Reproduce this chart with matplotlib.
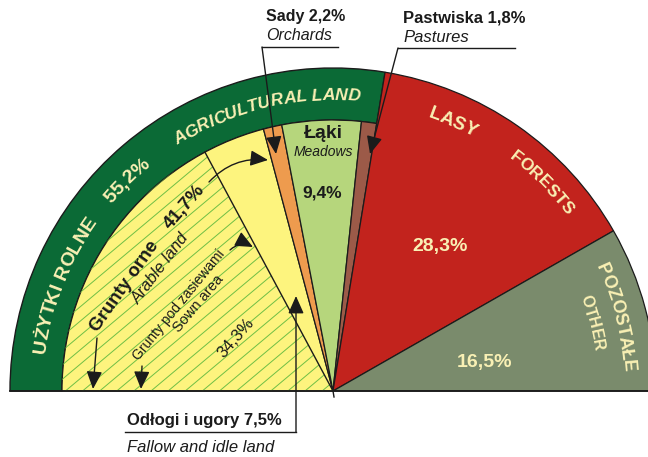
import numpy as np
import matplotlib
matplotlib.use("Agg")
import matplotlib.pyplot as plt
from matplotlib.patches import Wedge, FancyArrowPatch
from matplotlib.font_manager import FontProperties, findfont
from matplotlib.ft2font import FT2Font

# land use shares, % of total area (semicircle = 100%)
categories = ["Grunty orne", "Sady", "Łąki", "Pastwiska", "Lasy", "Pozostałe"]
shares = [41.7, 2.2, 9.4, 1.8, 28.3, 16.5]
sown_share = 34.3
fallow_share = 7.5
agri_share = 55.2

colors = ["#fdf47e", "#ee9b4e", "#b6d67c", "#9c5a48", "#c2231d", "#7a8b6c"]
band_color = "#0b6a36"
hatch_color = "#6fbf45"
cream = "#f9f0b4"
ink = "#1b1b1b"

W, H = 648, 457
cx, cy = 333, H - 391
R_OUT, R_IN = 323, 271

fig = plt.figure(figsize=(6.48, 4.57), dpi=100)
ax = fig.add_axes([0, 0, 1, 1])
ax.set_xlim(0, W)
ax.set_ylim(0, H)
ax.axis("off")


def px(x, y):
    # picture coordinates (y down) -> data coordinates
    return (x, H - y)


def fp(size, bold=False, italic=False):
    return FontProperties(family="Liberation Sans", size=size,
                          weight="bold" if bold else "normal",
                          style="italic" if italic else "normal")


def advances(text, prop):
    font = FT2Font(findfont(prop))
    font.set_size(prop.get_size_in_points(), 100)
    return [font.load_char(ord(ch)).linearHoriAdvance / 65536 for ch in text]


def arc_text(text, r, mid_deg, prop, color):
    # text running clockwise along a circle, baseline at radius r
    ws = advances(text, prop)
    start = np.radians(mid_deg) + sum(ws) / (2 * r)
    pos = 0
    for ch, w in zip(text, ws):
        a = start - (pos + w / 2) / r
        ax.text(cx + r * np.cos(a), cy + r * np.sin(a), ch, fontproperties=prop,
                color=color, rotation=np.degrees(a) - 90, rotation_mode="anchor",
                ha="center", va="baseline", zorder=6)
        pos += w


k = 180 / sum(shares)
edges = 180 - np.concatenate([[0], np.cumsum(shares)]) * k
radii = [R_IN, R_IN, R_IN, R_IN, R_OUT, R_OUT]

# agricultural land band
band = Wedge((cx, cy), R_OUT, edges[4], 180, width=R_OUT - R_IN,
             facecolor=band_color, edgecolor=ink, lw=1, zorder=2)
ax.add_patch(band)

for i in range(len(shares)):
    w = Wedge((cx, cy), radii[i], edges[i + 1], edges[i],
              facecolor=colors[i], edgecolor=ink, lw=0.9, zorder=3)
    ax.add_patch(w)

# sown area hatching
a_sown = 180 - sown_share * k
clip = Wedge((cx, cy), R_IN, a_sown, 180, transform=ax.transData)
ang = np.radians(40)
d = np.array([np.cos(ang), np.sin(ang)])
n = np.array([-np.sin(ang), np.cos(ang)])
for s in np.arange(-400, 400, 11):
    p0 = np.array([cx, cy]) + s * n - 500 * d
    p1 = np.array([cx, cy]) + s * n + 500 * d
    ln, = ax.plot([p0[0], p1[0]], [p0[1], p1[1]], color=hatch_color, lw=0.7, zorder=4)
    ln.set_clip_path(clip)

ar = np.radians(a_sown)
ax.plot([cx, cx + R_IN * np.cos(ar)], [cy, cy + R_IN * np.sin(ar)], color=ink, lw=1, zorder=5)
ax.plot([cx - R_OUT, W], [cy, cy], color=ink, lw=1.3, zorder=5)
ax.plot([cx, cx + 1], [cy, cy - 6], color=ink, lw=1, zorder=5)

# curved labels
arc_text("AGRICULTURAL LAND", 291, 103.5, fp(12.5, True, True), cream)
arc_text("UŻYTKI ROLNE", 290, 158.5, fp(14, True), cream)
arc_text("55,2%", 290, 134.5, fp(14, True), cream)
arc_text("LASY", 290, 66, fp(13.5, True), cream)
arc_text("FORESTS", 292, 45, fp(12.5, True), cream)
arc_text("POZOSTAŁE", 291, 14.5, fp(13, True), cream)
arc_text("OTHER", 264, 14.7, fp(11.5, True), cream)


# labels inside wedges
def label(x, y, s, prop, color=ink, rot=0, ha="center"):
    ax.text(*px(x, y), s, fontproperties=prop, color=color, rotation=rot,
            rotation_mode="anchor", ha=ha, va="center", zorder=6)


label(323, 133, "Łąki", fp(14, True))
label(323, 152, "Meadows", fp(10, italic=True))
label(322, 193, "9,4%", fp(12.5, True))
label(440, 247, "28,3%", fp(14, True), cream)
label(485, 363, "16,5%", fp(14, True), cream)

label(125, 286, "Grunty orne", fp(13.5, True), rot=55)
label(185, 207, "41,7%", fp(13.5, True), rot=49)
label(161, 269, "Arable land", fp(12, italic=True), rot=53)
label(179, 305, "Grunty pod zasiewami", fp(10), rot=51)
label(198, 304, "Sown area", fp(10.5), rot=50)
label(236, 338, "34,3%", fp(12), rot=49)

# outside labels
label(266, 17, "Sady 2,2%", fp(11.5, True), ha="left")
label(266, 36, "Orchards", fp(11.5, italic=True), ha="left")
label(403, 18, "Pastwiska 1,8%", fp(12, True), ha="left")
label(403, 37, "Pastures", fp(12, italic=True), ha="left")
label(127, 421, "Odłogi i ugory 7,5%", fp(12, True), ha="left")
label(127, 448, "Fallow and idle land", fp(12, italic=True), ha="left")


# leader lines and arrows
def line(*pts):
    xs, ys = zip(*[px(x, y) for x, y in pts])
    ax.plot(xs, ys, color=ink, lw=1, zorder=7)


def arrow(p0, p1, rad=0.0):
    ax.add_patch(FancyArrowPatch(px(*p0), px(*p1),
                                 arrowstyle="-|>,head_length=0.45,head_width=0.2",
                                 mutation_scale=24,
                                 connectionstyle=f"arc3,rad={rad}", color=ink, lw=1,
                                 shrinkA=0, shrinkB=0, zorder=7))


line((262, 47), (338, 47))
arrow((262, 47), (276, 154))
line((398, 48), (515, 48))
arrow((398, 48), (370, 154))
line((125, 432), (296, 432))
arrow((296, 432), (296, 296))
arrow((209, 182), (268, 160), rad=-0.25)
arrow((230, 250), (253, 247), rad=-0.35)
arrow((97, 338), (93, 389))
arrow((142, 366), (141, 389))

fig.savefig("out.png", dpi=100)
